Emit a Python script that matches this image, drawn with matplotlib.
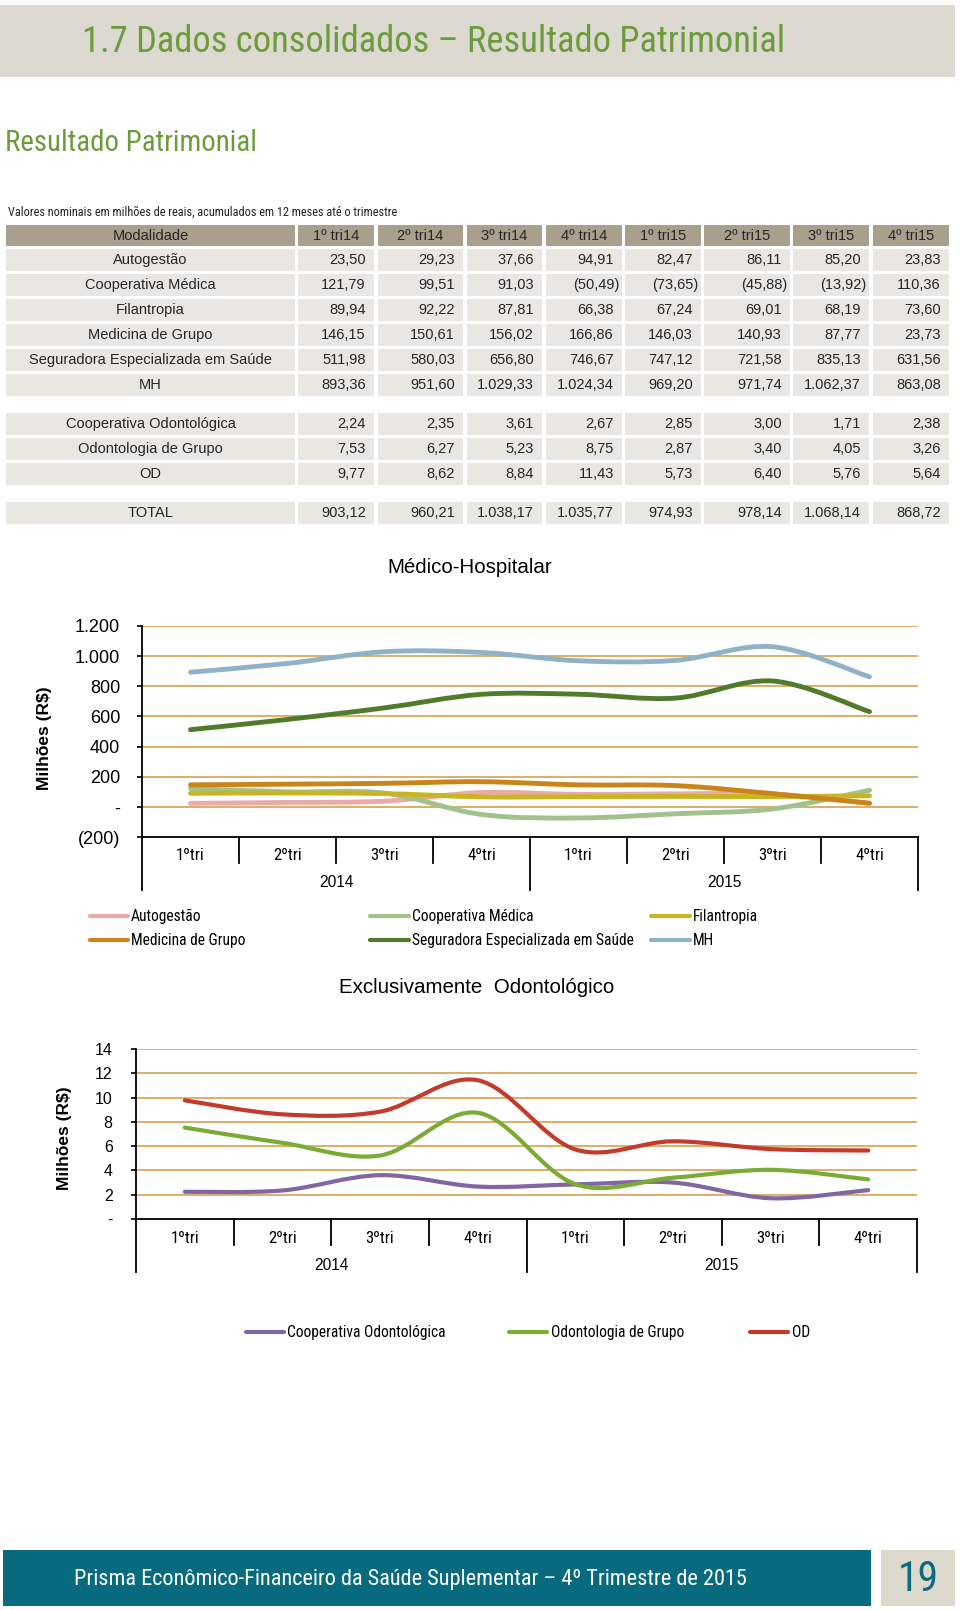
import numpy as np
import matplotlib
matplotlib.use('Agg')
import matplotlib.pyplot as plt
from matplotlib.path import Path
from matplotlib.patches import PathPatch, Rectangle
from matplotlib.lines import Line2D
from matplotlib import font_manager as fm
import matplotlib.transforms as mtrans

# ---------------- data ----------------
table_cols = ['1º tri14', '2º tri14', '3º tri14', '4º tri14',
              '1º tri15', '2º tri15', '3º tri15', '4º tri15']
autogestao = [23.50, 29.23, 37.66, 94.91, 82.47, 86.11, 85.20, 23.83]
coop_medica = [121.79, 99.51, 91.03, -50.49, -73.65, -45.88, -13.92, 110.36]
filantropia = [89.94, 92.22, 87.81, 66.38, 67.24, 69.01, 68.19, 73.60]
medicina_grupo = [146.15, 150.61, 156.02, 166.86, 146.03, 140.93, 87.77, 23.73]
seguradora = [511.98, 580.03, 656.80, 746.67, 747.12, 721.58, 835.13, 631.56]
mh = [893.36, 951.60, 1029.33, 1024.34, 969.20, 971.74, 1062.37, 863.08]
coop_odonto = [2.24, 2.35, 3.61, 2.67, 2.85, 3.00, 1.71, 2.38]
odonto_grupo = [7.53, 6.27, 5.23, 8.75, 2.87, 3.40, 4.05, 3.26]
od = [9.77, 8.62, 8.84, 11.43, 5.73, 6.40, 5.76, 5.64]
total = [903.12, 960.21, 1038.17, 1035.77, 974.93, 978.14, 1068.14, 868.72]

mh_names = ['Autogestão', 'Cooperativa Médica', 'Filantropia', 'Medicina de Grupo',
            'Seguradora Especializada em Saúde', 'MH']
od_names = ['Cooperativa Odontológica', 'Odontologia de Grupo', 'OD']
table_groups = [
    [('Autogestão', autogestao), ('Cooperativa Médica', coop_medica),
     ('Filantropia', filantropia), ('Medicina de Grupo', medicina_grupo),
     ('Seguradora Especializada em Saúde', seguradora), ('MH', mh)],
    [('Cooperativa Odontológica', coop_odonto), ('Odontologia de Grupo', odonto_grupo),
     ('OD', od)],
    [('TOTAL', total)],
]
quarters = ['1ºtri', '2ºtri', '3ºtri', '4ºtri', '1ºtri', '2ºtri', '3ºtri', '4ºtri']
years = ['2014', '2015']
mh_ticks = [-200, 0, 200, 400, 600, 800, 1000, 1200]
mh_ticklabels = ['(200)', '-', '200', '400', '600', '800', '1.000', '1.200']
od_ticks = [0, 2, 4, 6, 8, 10, 12, 14]
od_ticklabels = ['-', '2', '4', '6', '8', '10', '12', '14']

mh_colors = ['#e9aaa8', '#a2c18c', '#c9b524', '#c98519', '#507b2a', '#90b2c6']
od_colors = ['#8066a3', '#7aab34', '#c23b2c']

# ---------------- fonts ----------------
def has_font(name):
    try:
        fm.findfont(fm.FontProperties(family=name), fallback_to_default=False)
        return True
    except Exception:
        return False

REG = 'Liberation Sans' if has_font('Liberation Sans') else 'DejaVu Sans'


def find_narrow():
    prefs = ['liberation sans narrow', 'arial narrow', 'roboto condensed',
             'open sans condensed', 'dejavu sans', 'noto sans']
    cands = []
    for f in fm.fontManager.ttflist:
        nm = f.name.lower()
        fname = str(f.fname).lower()
        st = f.stretch
        narrow = ('narrow' in nm or 'condensed' in nm or 'narrow' in fname
                  or 'condensed' in fname
                  or st in ('condensed', 'semi-condensed', 'extra-condensed')
                  or (isinstance(st, (int, float)) and st < 500))
        if not narrow or f.style != 'normal':
            continue
        w = f.weight
        if w not in (400, 'normal', 'regular', 'book'):
            continue
        if 'mono' in nm or 'serif' in nm and 'sans' not in nm:
            continue
        rank = len(prefs)
        for i, p in enumerate(prefs):
            if nm.startswith(p):
                rank = i
                break
        if 'semi' in fname or 'extra' in fname:
            rank += 0.5
        cands.append((rank, f.fname))
    if not cands:
        return None
    cands.sort()
    return cands[0][1]


NARROW_FILE = find_narrow()


def nf(size):
    if NARROW_FILE:
        return dict(fontproperties=fm.FontProperties(fname=NARROW_FILE, size=size))
    return dict(family=[REG, 'DejaVu Sans'], fontsize=size * 0.82)


def rf(size, **kw):
    d = dict(family=[REG, 'DejaVu Sans'], fontsize=size)
    d.update(kw)
    return d


def br(v):
    s = f"{abs(v):,.2f}".replace(',', 'X').replace('.', ',').replace('X', '.')
    return f"({s})" if v < 0 else s


def smooth_path(xs, ys):
    pts = np.column_stack([xs, ys]).astype(float)
    n = len(pts)
    verts = [pts[0]]
    codes = [Path.MOVETO]
    for i in range(n - 1):
        p0 = pts[i - 1] if i > 0 else pts[i]
        p1 = pts[i]
        p2 = pts[i + 1]
        p3 = pts[i + 2] if i + 2 < n else pts[i + 1]
        c1 = p1 + (p2 - p0) / 6.0
        c2 = p2 - (p3 - p1) / 6.0
        verts += [c1, c2, p2]
        codes += [Path.CURVE4] * 3
    return Path(verts, codes)


W, H = 960, 1610
fig = plt.figure(figsize=(W / 100, H / 100), dpi=100)
fig.patch.set_facecolor('white')

page = fig.add_axes([0, 0, 1, 1])
page.set_xlim(0, W)
page.set_ylim(H, 0)
page.axis('off')
page.set_zorder(0)

GREEN = '#6b9b3a'
# header band
page.add_patch(Rectangle((0, 5), 955, 72, facecolor='#dcdad0', edgecolor='none'))
page.text(82, 42, '1.7 Dados consolidados – Resultado Patrimonial', color=GREEN,
          va='center', ha='left', **nf(26.3))
page.text(5, 143, 'Resultado Patrimonial', color=GREEN, va='center', ha='left', **nf(20.8))
page.text(8, 212, 'Valores nominais em milhões de reais, acumulados em 12 meses até o trimestre',
          color='#222222', va='center', ha='left', **nf(8.8))

# ---------------- table ----------------
col_edges = [(6, 295), (298, 374), (378, 463), (467, 542), (546, 622),
             (625, 701), (704, 790), (793, 869), (873, 949)]
HEAD_BG = '#a89f8d'
CELL_BG = '#e9e7e2'
TXT = '#262626'
for j, (x0, x1) in enumerate(col_edges):
    page.add_patch(Rectangle((x0, 225), x1 - x0, 21, facecolor=HEAD_BG, edgecolor='none'))
    lab = 'Modalidade' if j == 0 else table_cols[j - 1]
    page.text((x0 + x1) / 2, 235.5, lab, ha='center', va='center', color=TXT, **rf(10.5))

group_tops = [249, 413, 502]
for g, rows in enumerate(table_groups):
    for r, (name, vals) in enumerate(rows):
        top = group_tops[g] + 25 * r
        yc = top + 11
        for j, (x0, x1) in enumerate(col_edges):
            page.add_patch(Rectangle((x0, top), x1 - x0, 22, facecolor=CELL_BG, edgecolor='none'))
            if j == 0:
                page.text((x0 + x1) / 2, yc, name, ha='center', va='center', color=TXT, **rf(10.5))
            else:
                v = vals[j - 1]
                xr = x1 - (3 if v < 0 else 8)
                page.text(xr, yc, br(v), ha='right', va='center', color=TXT, **rf(10.5))

# ---------------- chart helper ----------------
GRID = '#d19a3f'


def make_chart(left, right, top, bottom, ylim, ticks, ticklabels, series, colors, lw,
               sep_cat, sep_year, cat_y, year_y, tick_fs, tick_pad):
    ax = fig.add_axes([left / W, 1 - bottom / H, (right - left) / W, (bottom - top) / H])
    ax.set_zorder(2)
    ax.patch.set_alpha(0)
    ax.set_xlim(-0.5, 7.5)
    ax.set_ylim(*ylim)
    for s in ['top', 'right']:
        ax.spines[s].set_visible(False)
    for s in ['left', 'bottom']:
        ax.spines[s].set_color('black')
        ax.spines[s].set_linewidth(1.3)
    ax.set_xticks([])
    ax.set_yticks(ticks)
    ax.set_yticklabels(ticklabels)
    ax.tick_params(axis='y', direction='out', length=3.8, width=1.2, pad=tick_pad,
                   labelsize=tick_fs, colors='black')
    for lbl in ax.get_yticklabels():
        lbl.set_family([REG, 'DejaVu Sans'])
    for t in ticks[1:]:
        ax.axhline(t, color=GRID, lw=1.1, zorder=1)
    xs = np.arange(len(quarters))
    for vals, c in zip(series, colors):
        patch = PathPatch(smooth_path(xs, vals), transform=ax.transData, fill=False,
                          edgecolor=c, lw=lw, capstyle='round', joinstyle='round', zorder=3)
        ax.add_patch(patch)
    blend = mtrans.blended_transform_factory(ax.transData, page.transData)
    for k in range(len(quarters) + 1):
        xk = k - 0.5
        yend = sep_year if k % 4 == 0 else sep_cat
        ax.add_line(Line2D([xk, xk], [bottom, yend], transform=blend, color='black',
                           lw=1.3, clip_on=False))
    for i, q in enumerate(quarters):
        ax.text(i, cat_y, q, transform=blend, ha='center', va='center', color='black', **nf(12))
    for i, yv in enumerate(years):
        ax.text(1.5 + 4 * i, year_y, yv, transform=blend, ha='center', va='center',
                color='black', **rf(11.2))
    return ax


ax1 = make_chart(142, 918, 626, 837, (-200, 1200), mh_ticks, mh_ticklabels,
                 [autogestao, coop_medica, filantropia, medicina_grupo, seguradora, mh],
                 mh_colors, 3.5, 863, 890, 855, 882, 13, 12)
page.text(470, 567, 'Médico-Hospitalar', ha='center', va='center', color='black', **rf(14.8))
fig.text(45 / W, 1 - 738 / H, 'Milhões (R$)', rotation=90, ha='center', va='center',
         color='black', **rf(12.5, fontweight='bold'))

ax2 = make_chart(136, 917, 1049, 1219, (0, 14), od_ticks, od_ticklabels,
                 [coop_odonto, odonto_grupo, od], od_colors, 3.0, 1245, 1272, 1238, 1265, 11.5, 13)
page.text(477, 987, 'Exclusivamente  Odontológico', ha='center', va='center', color='black',
          **rf(14.8))
fig.text(65 / W, 1 - 1138 / H, 'Milhões (R$)', rotation=90, ha='center', va='center',
         color='black', **rf(12.5, fontweight='bold'))

# ---------------- legends ----------------
leg1_rows = [916, 940]
leg1_cols = [(90, 128, 131), (370, 409, 412), (651, 690, 693)]
for idx, (name, c) in enumerate(zip(mh_names, mh_colors)):
    r, cc = divmod(idx, 3)
    x0, x1, xt = leg1_cols[cc]
    y = leg1_rows[r]
    page.add_line(Line2D([x0, x1], [y, y], color=c, lw=3.0, solid_capstyle='round'))
    page.text(xt, y, name, ha='left', va='center', color='black', **nf(11.2))

leg2_cols = [(246, 284, 287), (509, 547, 551), (750, 788, 792)]
for idx, (name, c) in enumerate(zip(od_names, od_colors)):
    x0, x1, xt = leg2_cols[idx]
    y = 1332
    page.add_line(Line2D([x0, x1], [y, y], color=c, lw=3.0, solid_capstyle='round'))
    page.text(xt, y, name, ha='left', va='center', color='black', **nf(11.2))

# ---------------- footer ----------------
TEAL = '#086a7f'
page.add_patch(Rectangle((3, 1550), 868, 56, facecolor=TEAL, edgecolor='none'))
page.text(74, 1579, 'Prisma Econômico-Financeiro da Saúde Suplementar – 4º Trimestre de 2015',
          ha='left', va='center', color='white', **nf(16.0))
page.add_patch(Rectangle((881, 1550), 74, 56, facecolor='#dcd9cc', edgecolor='none'))
page.text(918, 1579, '19', ha='center', va='center', color=TEAL, **nf(30))

fig.savefig('out.png', dpi=100, facecolor='white')
